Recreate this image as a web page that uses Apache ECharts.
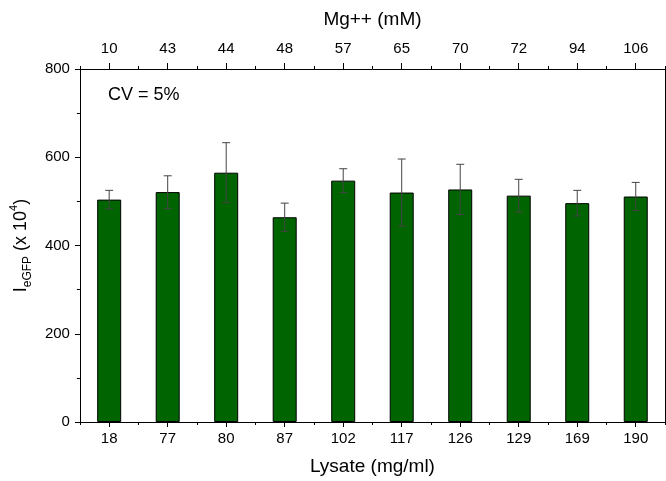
<!DOCTYPE html>
<html>
<head>
<meta charset="utf-8">
<script src="https://cdn.jsdelivr.net/npm/echarts@6/dist/echarts.min.js"></script>
<style>
  html, body { margin: 0; padding: 0; background: #fff; }
  #chart { width: 666px; height: 481px; }
</style>
</head>
<body>
<div id="chart"></div>
<script>
// Data
const lysate = ['18', '77', '80', '87', '102', '117', '126', '129', '169', '190'];
const mgConc = ['10', '43', '44', '48', '57', '65', '70', '72', '94', '106'];
const meanIntensity = [504, 521, 565, 464, 547, 520, 527, 513, 496, 511];
const errIntensity = [21, 37, 68, 32, 27, 76, 57, 37, 29, 32];
const yTicks = [0, 200, 400, 600, 800];

const errData = meanIntensity.map((m, i) => [i, m - errIntensity[i], m + errIntensity[i]]);

const font = 'Liberation Sans, Arial, sans-serif';
const chart = echarts.init(document.getElementById('chart'), null, { renderer: 'canvas' });

const grid = { left: 78, right: 1, top: 69, bottom: 58, containLabel: false };

chart.setOption({
  animation: false,
  backgroundColor: '#fff',
  grid: grid,
  xAxis: [
    {
      type: 'category', position: 'bottom', data: lysate,
      name: 'Lysate (mg/ml)', nameLocation: 'middle', nameGap: 35,
      nameTextStyle: { fontFamily: font, fontSize: 19, color: '#000' },
      axisLine: { show: true, lineStyle: { color: '#000', width: 1 } },
      axisTick: { show: true, alignWithLabel: true, inside: false, length: 5, lineStyle: { color: '#000' } },
      axisLabel: { fontFamily: font, fontSize: 15, color: '#000', margin: 9 },
      splitLine: { show: false }
    },
    {
      type: 'category', position: 'top', data: mgConc,
      name: 'Mg++ (mM)', nameLocation: 'middle', nameGap: 40,
      nameTextStyle: { fontFamily: font, fontSize: 19, color: '#000' },
      axisLine: { show: true, onZero: false, lineStyle: { color: '#000', width: 1 } },
      axisTick: { show: true, alignWithLabel: true, inside: false, length: 6, lineStyle: { color: '#000' } },
      axisLabel: { fontFamily: font, fontSize: 15, color: '#000', margin: 13 },
      splitLine: { show: false }
    },
    {
      type: 'category', position: 'bottom', data: lysate,
      axisLine: { show: false },
      axisTick: { show: true, alignWithLabel: false, length: 3, lineStyle: { color: '#000' } },
      axisLabel: { show: false }, splitLine: { show: false }
    },
    {
      type: 'category', position: 'top', data: mgConc,
      axisLine: { show: false, onZero: false },
      axisTick: { show: true, alignWithLabel: false, length: 3, lineStyle: { color: '#000' } },
      axisLabel: { show: false }, splitLine: { show: false }
    }
  ],
  yAxis: [
    {
      type: 'value', min: yTicks[0], max: yTicks[yTicks.length - 1], interval: 200,
      position: 'left',
      name: '{i|I}{sub|eGFP}{n| (x 10}{sup|4}{n|)}',
      nameLocation: 'middle', nameGap: 42, nameRotate: 90,
      nameTextStyle: {
        fontFamily: font, color: '#000',
        rich: {
          i: { fontFamily: font, fontSize: 18, lineHeight: 26, color: '#000' },
          n: { fontFamily: font, fontSize: 18, lineHeight: 26, color: '#000' },
          sub: { fontFamily: font, fontSize: 12, lineHeight: 12, verticalAlign: 'bottom', color: '#000' },
          sup: { fontFamily: font, fontSize: 11, lineHeight: 11, verticalAlign: 'top', color: '#000' }
        }
      },
      axisLine: { show: true, lineStyle: { color: '#000', width: 1 } },
      axisTick: { show: true, inside: false, length: 5, lineStyle: { color: '#000' } },
      minorTick: { show: true, splitNumber: 2, length: 3, lineStyle: { color: '#000' } },
      axisLabel: { fontFamily: font, fontSize: 15, color: '#000', margin: 10 },
      splitLine: { show: false }, minorSplitLine: { show: false }
    },
    {
      type: 'value', min: 0, max: 800, position: 'right',
      axisLine: { show: true, lineStyle: { color: '#000', width: 1 } },
      axisTick: { show: false }, axisLabel: { show: false }, splitLine: { show: false }
    }
  ],
  graphic: [
    {
      type: 'text', left: 108, top: 86,
      style: { text: 'CV = 5%', font: '18px ' + font, fill: '#000' }
    }
  ],
  series: [
    {
      type: 'bar', xAxisIndex: 0, yAxisIndex: 0,
      data: meanIntensity, barWidth: 24,
      itemStyle: { color: '#006400', borderColor: '#000', borderWidth: 1 }
    },
    {
      type: 'custom', xAxisIndex: 0, yAxisIndex: 0,
      data: errData, z: 5,
      renderItem: function (params, api) {
        const x = api.value(0);
        const lo = api.coord([x, api.value(1)]);
        const hi = api.coord([x, api.value(2)]);
        const hw = 4;
        const st = { stroke: '#444', lineWidth: 1 };
        return {
          type: 'group',
          children: [
            { type: 'line', shape: { x1: hi[0], y1: hi[1], x2: lo[0], y2: lo[1] }, style: st },
            { type: 'line', shape: { x1: hi[0] - hw, y1: hi[1], x2: hi[0] + hw, y2: hi[1] }, style: st },
            { type: 'line', shape: { x1: lo[0] - hw, y1: lo[1], x2: lo[0] + hw, y2: lo[1] }, style: st }
          ]
        };
      }
    }
  ]
});
</script>
</body>
</html>
